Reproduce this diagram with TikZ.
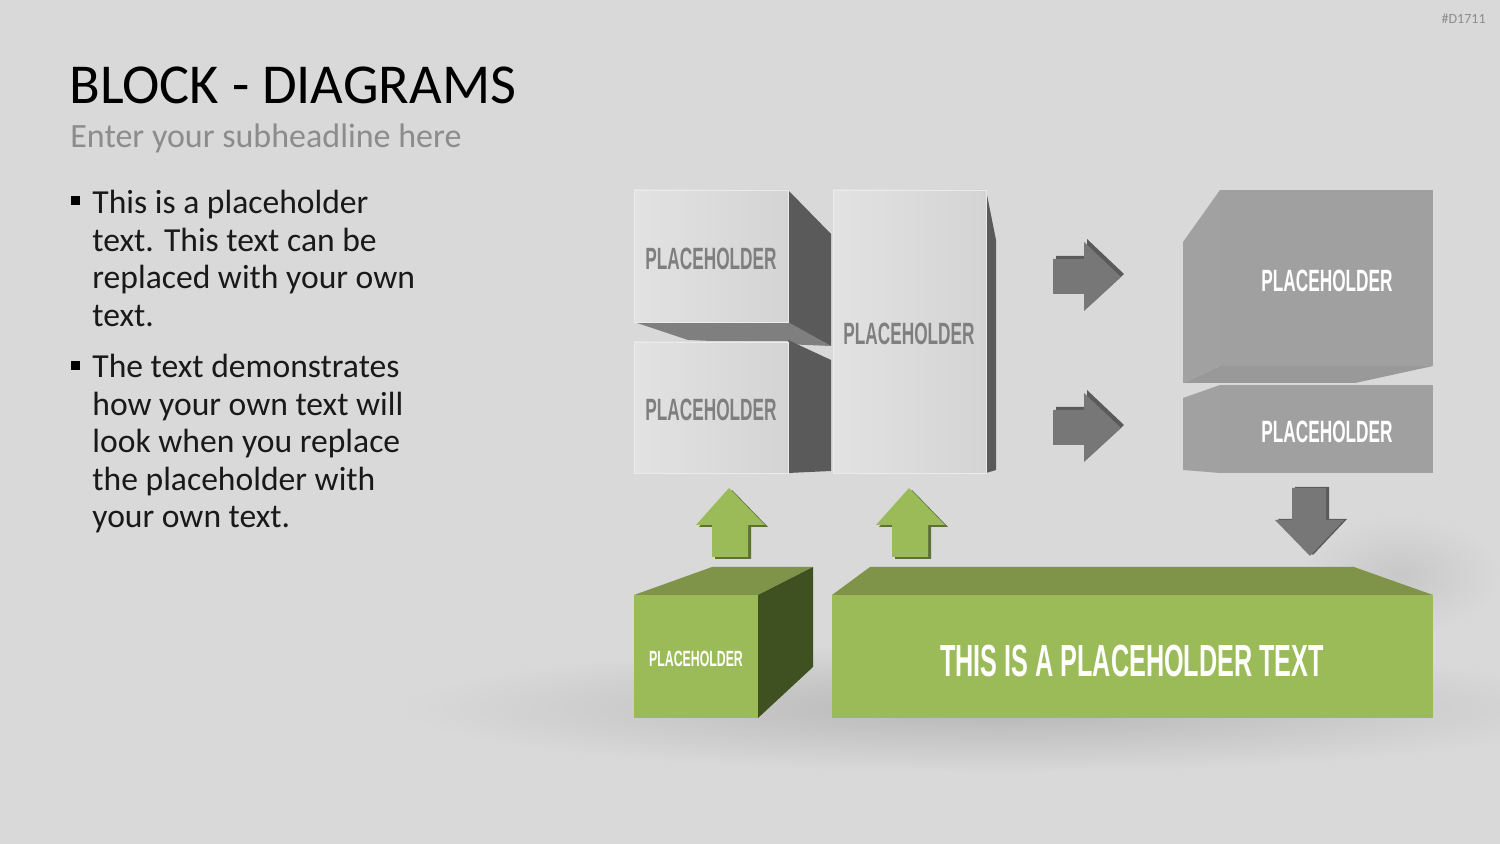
\documentclass[tikz,border=0pt]{standalone}
\usepackage{fontspec}
\setmainfont{Carlito}
\newfontfamily\blockfont[FakeStretch=0.56]{Liberation Sans}
\definecolor{bgcol}{HTML}{D9D9D9}
\definecolor{faceleft}{HTML}{E2E2E2}
\definecolor{faceright}{HTML}{D4D4D4}
\definecolor{darkside}{HTML}{5A5A5A}
\definecolor{midgray}{HTML}{7F7F7F}
\definecolor{boxgray}{HTML}{A0A0A0}
\definecolor{arrowgray}{HTML}{777777}
\definecolor{leafgreen}{HTML}{9BBB59}
\definecolor{topgreen}{HTML}{7F9449}
\definecolor{darkgreen}{HTML}{3F5121}
\tikzset{
  front/.style={left color=faceleft, right color=faceright, draw=white!30!faceleft, line width=0.4pt},
  label/.style={font=\blockfont\bfseries\fontsize{15.4}{16}\selectfont, text=midgray},
  whitelabel/.style={label, text=white},
  para/.style={anchor=base west, inner sep=0, align=left, font=\fontsize{16.8}{18.75}\selectfont, text=black!90},
}
\begin{document}
\begin{tikzpicture}[x=0.5pt,y=-0.5pt]
\useasboundingbox (0,0) rectangle (1500,844);
\fill[bgcol] (0,0) rectangle (1500,844);
\begin{scope}
\clip (0,0) rectangle (1500,844);
\shade[inner color=black!16!bgcol, outer color=bgcol] (1000,708) ellipse (600 and 65);
\shade[inner color=black!8!bgcol, outer color=bgcol] (1400,575) ellipse (100 and 60);
\end{scope}

% headline and bullets
\node[anchor=base west, inner sep=0] (title) at (69,104) {\fontsize{28.2}{34}\selectfont BLOCK - DIAGRAMS};
\node[anchor=base west, inner sep=0, text=black!45] (sub) at (70,148) {\fontsize{17}{21}\selectfont Enter your subheadline here};
\node[para] (p1) at (92,326.5) {This is a placeholder\\ text. This text can be\\ replaced with your own\\ text.};
\node[para] (p2) at (92,528) {The text demonstrates\\ how your own text will\\ look when you replace\\ the placeholder with\\ your own text.};
\fill (71,196) rectangle (80,205);
\fill (71,361) rectangle (80,370);
\node[anchor=base east, inner sep=0, text=black!45] (code) at (1486,24) {\fontsize{7}{8}\selectfont\#D1711};

% light gray blocks
\fill[darkside] (788,190) -- (831,234) -- (831,346) -- (788,323) -- cycle;
\fill[midgray] (634,322) -- (788,322) -- (831,346) -- (688,340) -- cycle;
\shade[front] (634,190) rectangle (788,322);
\fill[darkside] (788,340) -- (831,360) -- (831,471) -- (788,473) -- cycle;
\shade[front] (634,342) rectangle (788,473);
\fill[darkside] (986,190) -- (996,240) -- (996,470) -- (986,473) -- cycle;
\shade[front] (833,190) rectangle (986,473);
\node[label] (tl) at (711,259) {PLACEHOLDER};
\node[label] (bl) at (711,410) {PLACEHOLDER};
\node[label] (tall) at (909,334) {PLACEHOLDER};

% right arrows
\foreach \dy in {0,151}{
  \fill[darkside, shift={(3,\dy-3)}] (1053,259) -- (1084,259) -- (1084,242) -- (1121,277) -- (1084,311) -- (1084,294) -- (1053,294) -- cycle;
  \fill[arrowgray, shift={(0,\dy)}] (1053,259) -- (1084,259) -- (1084,242) -- (1121,277) -- (1084,311) -- (1084,294) -- (1053,294) -- cycle;
}

% dark gray blocks
\fill[black!40] (1183,383) -- (1220,366) -- (1433,366) -- (1355,383) -- cycle;
\fill[black!37] (1220,190) -- (1183,242) -- (1183,383) -- (1220,366) -- cycle;
\fill[boxgray] (1220,190) rectangle (1433,366);
\fill[black!37] (1220,385) -- (1183,398) -- (1183,470) -- (1220,473) -- cycle;
\fill[boxgray] (1220,385) rectangle (1433,473);
\node[whitelabel] (rt) at (1327,281) {PLACEHOLDER};
\node[whitelabel] (rb) at (1327,432) {PLACEHOLDER};

% down arrow
\fill[darkside, shift={(3,-1)}] (1292,488) -- (1326,488) -- (1326,520) -- (1344,520) -- (1310,556) -- (1275,520) -- (1292,520) -- cycle;
\fill[arrowgray] (1292,488) -- (1326,488) -- (1326,520) -- (1344,520) -- (1310,556) -- (1275,520) -- (1292,520) -- cycle;

% up arrows
\foreach \dx in {0,180}{
  \fill[leafgreen!60!black, shift={(\dx+3,2)}] (729,488) -- (765,525) -- (748,525) -- (748,557) -- (712,557) -- (712,525) -- (696,525) -- cycle;
  \fill[leafgreen, shift={(\dx,0)}] (729,488) -- (765,525) -- (748,525) -- (748,557) -- (712,557) -- (712,525) -- (696,525) -- cycle;
}

% green blocks
\fill[topgreen] (634,595) -- (712,567) -- (813,567) -- (758,595) -- cycle;
\fill[darkgreen] (758,595) -- (813,567) -- (813,667) -- (758,718) -- cycle;
\fill[leafgreen] (634,595) rectangle (758,718);
\fill[topgreen] (832,595) -- (870,567) -- (1354,567) -- (1433,595) -- cycle;
\fill[leafgreen] (832,595) rectangle (1433,718);
\node[whitelabel, font=\blockfont\bfseries\fontsize{11}{12}\selectfont] (gs) at (696,659) {PLACEHOLDER};
\node[whitelabel, font=\blockfont\bfseries\fontsize{22.5}{24}\selectfont] (gb) at (1132,661) {THIS IS A PLACEHOLDER TEXT};
\end{tikzpicture}
\end{document}
